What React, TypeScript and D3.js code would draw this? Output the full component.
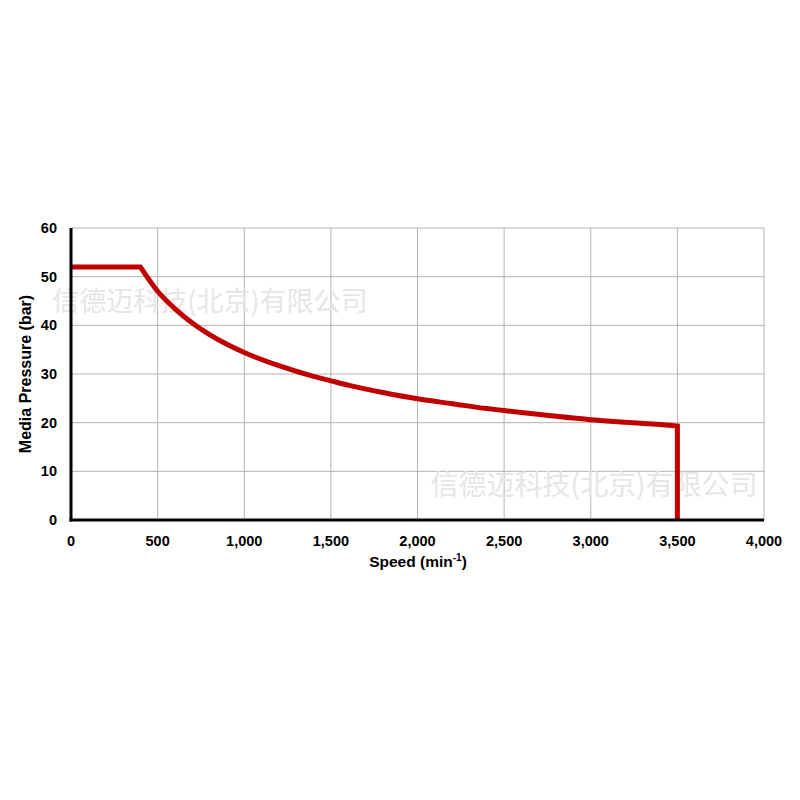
import React from "react";
import * as d3 from "d3";

const speeds = [0, 400, 500, 600, 700, 800, 900, 1000, 1200, 1400, 1500, 1600, 1800, 2000, 2200, 2400, 2500, 2600, 2800, 3000, 3200, 3400, 3500];
const pressures = [52, 52, 47.0, 43.4, 40.5, 38.1, 36.1, 34.4, 31.7, 29.5, 28.6, 27.7, 26.2, 24.9, 23.9, 22.9, 22.5, 22.1, 21.3, 20.6, 20.1, 19.6, 19.3];
const xTicks = [0, 500, 1000, 1500, 2000, 2500, 3000, 3500, 4000];
const yTicks = [0, 10, 20, 30, 40, 50, 60];
const watermark = "信德迈科技(北京)有限公司";

export default function App() {
  const W = 800, H = 800;
  const x = d3.scaleLinear().domain([0, 4000]).range([71, 764]);
  const y = d3.scaleLinear().domain([0, 60]).range([520, 228]);
  const data = speeds.map((s, i) => [s, pressures[i]] as [number, number]);
  const flat = data.slice(0, 2);
  const curve = data.slice(1);
  const lin = d3.line<[number, number]>().x(d => x(d[0])).y(d => y(d[1]));
  const smooth = d3.line<[number, number]>().x(d => x(d[0])).y(d => y(d[1])).curve(d3.curveMonotoneX);
  const last = data[data.length - 1];
  const d =
    (lin(flat) || "") +
    (smooth(curve) || "").replace(/^M/, "L") +
    `L${x(last[0])},${y(0)}`;
  const font = "Arial, 'Liberation Sans', sans-serif";
  return (
    <svg width={W} height={H} style={{ position: "absolute", left: 0, top: 0, background: "#fff" }}>
      <rect width={W} height={H} fill="#fff" />
      {xTicks.slice(1).map(t => (
        <line key={"gx" + t} x1={x(t)} x2={x(t)} y1={y(60)} y2={y(0)} stroke="#b4b4b4" strokeWidth={1} />
      ))}
      {yTicks.slice(1).map(t => (
        <line key={"gy" + t} x1={x(0)} x2={x(4000)} y1={y(t)} y2={y(t)} stroke="#b4b4b4" strokeWidth={1} />
      ))}
      <text x={210} y={311} fontFamily="'Noto Sans CJK SC', sans-serif" fontSize={27} fill="#e6e6e6" textAnchor="middle">{watermark}</text>
      <text x={594} y={495} fontFamily="'Noto Sans CJK SC', sans-serif" fontSize={28} fill="#e6e6e6" textAnchor="middle">{watermark}</text>
      <path d={d} fill="none" stroke="#c00000" strokeWidth={5} strokeLinejoin="miter" />
      <line x1={x(0)} x2={x(0)} y1={y(60)} y2={y(0) + 1.5} stroke="#000" strokeWidth={3} />
      <line x1={x(0) - 1.5} x2={x(4000)} y1={y(0)} y2={y(0)} stroke="#000" strokeWidth={3} />
      {xTicks.map(t => (
        <text key={"tx" + t} x={x(t)} y={546} textAnchor="middle" fontFamily={font} fontWeight="bold" fontSize={14.5} fill="#000">{d3.format(",")(t)}</text>
      ))}
      {yTicks.map(t => (
        <text key={"ty" + t} x={57} y={y(t) + 5} textAnchor="end" fontFamily={font} fontWeight="bold" fontSize={14.5} fill="#000">{t}</text>
      ))}
      <text x={418} y={567} textAnchor="middle" fontFamily={font} fontWeight="bold" fontSize={15.5} fill="#000">
        Speed (min<tspan dy={-6} fontSize={10}>-1</tspan><tspan dy={6}>)</tspan>
      </text>
      <text transform={`translate(31,374) rotate(-90)`} textAnchor="middle" fontFamily={font} fontWeight="bold" fontSize={16} fill="#000">Media Pressure (bar)</text>
    </svg>
  );
}
